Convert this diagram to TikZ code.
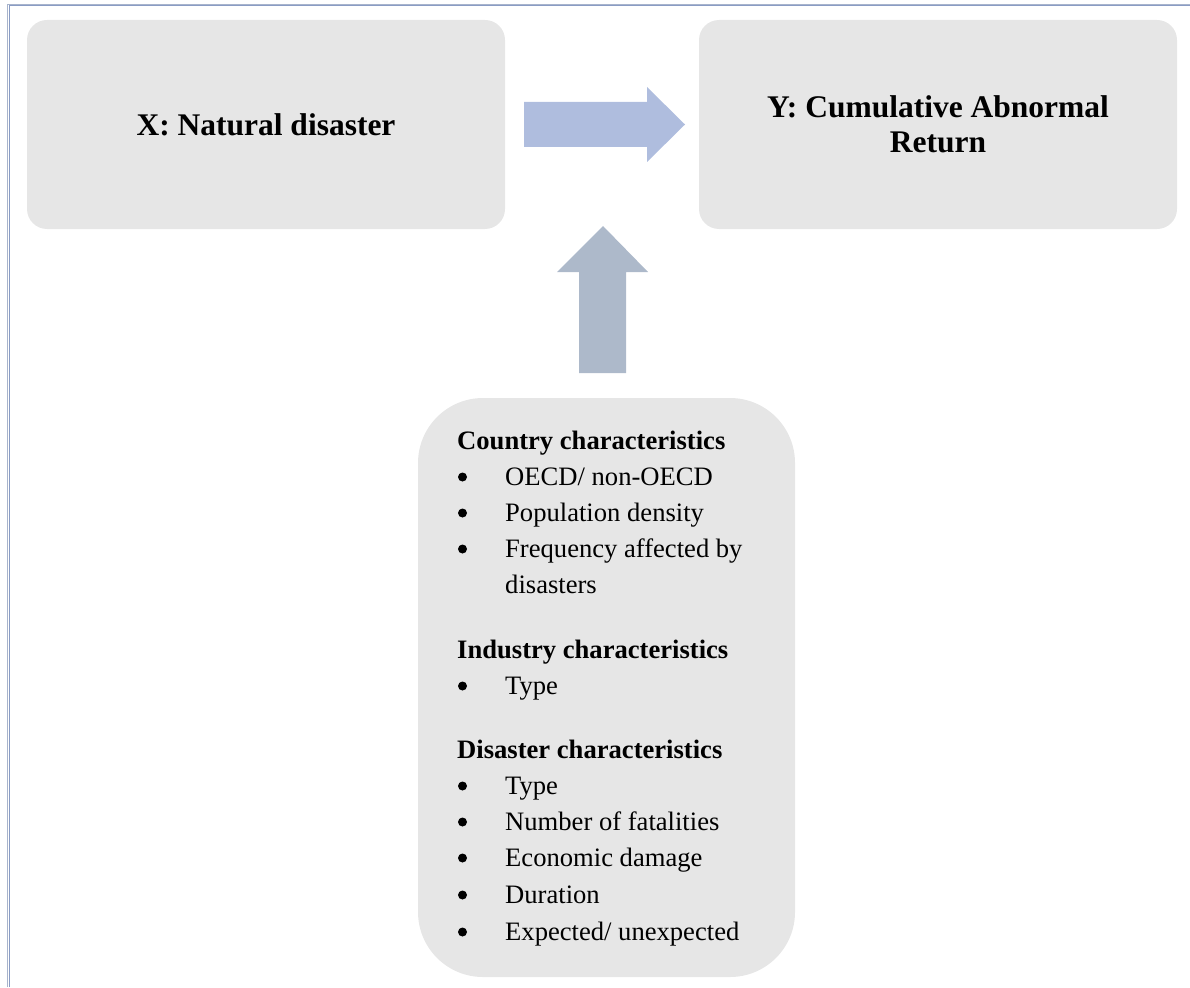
\documentclass[tikz,border=0pt]{standalone}
\usepackage{fontspec}
\setmainfont{Liberation Serif}
\definecolor{boxgray}{HTML}{E6E6E6}
\definecolor{arrowblue}{HTML}{AFBDDE}
\definecolor{arrowgray}{HTML}{ADB9CA}
\definecolor{frameblue}{HTML}{8A9CC4}
\definecolor{framelight}{HTML}{A8B4CC}
\begin{document}
\begin{tikzpicture}[x=1pt,y=-1pt,
  box/.style={fill=boxgray, draw=none, rounded corners=20pt, inner sep=0pt},
  titletext/.style={inner sep=0pt, align=center, font=\fontsize{31.5}{35}\selectfont\bfseries},
  headtext/.style={anchor=base west, inner sep=0pt, font=\fontsize{26.6}{32}\selectfont\bfseries},
  itemtext/.style={anchor=base west, inner sep=0pt, font=\fontsize{26.6}{32}\selectfont},
  bul/.style={circle, fill=black, draw=none, inner sep=0pt, minimum size=9pt}]
\useasboundingbox (0,0) rectangle (1190,987);
% frame
\draw[framelight, line width=1pt] (7.5,987) -- (7.5,4.2) -- (1190,4.2);
\draw[frameblue, line width=1pt] (9,987) -- (9,5.6) -- (1190,5.6);
% boxes
\node[box, minimum width=478pt, minimum height=209pt] (X) at (266,124.5) {};
\node[box, minimum width=478pt, minimum height=209pt] (Y) at (938,124.5) {};
\node[box, rounded corners=65pt, minimum width=377pt, minimum height=579pt] (M) at (606.5,687.5) {};
\node[titletext] (Xt) at (X.center) {X: Natural disaster};
\node[titletext] (Yt) at (Y.center) {Y: Cumulative Abnormal\\Return};
% block arrows
\fill[arrowblue] (524,102) -- (647,102) -- (647,87) -- (685,124.5) -- (647,162) -- (647,147) -- (524,147) -- cycle;
\fill[arrowgray] (579,373) -- (579,272) -- (557,272) -- (603,226) -- (648,272) -- (626,272) -- (626,373) -- cycle;
% list
\node[headtext] (h1) at (457,449) {Country characteristics};
\node[bul] (b1) at (462.5,477) {};
\node[itemtext] (i1) at (505,485) {OECD/ non-OECD};
\node[bul] (b2) at (462.5,513) {};
\node[itemtext] (i2) at (505,521) {Population density};
\node[bul] (b3) at (462.5,549) {};
\node[itemtext] (i3) at (505,557) {Frequency affected by};
\node[itemtext] (i3b) at (505,593) {disasters};
\node[headtext] (h2) at (457,658) {Industry characteristics};
\node[bul] (b4) at (462.5,686) {};
\node[itemtext] (i4) at (505,694) {Type};
\node[headtext] (h3) at (457,758) {Disaster characteristics};
\node[bul] (b5) at (462.5,786) {};
\node[itemtext] (i5) at (505,794) {Type};
\node[bul] (b6) at (462.5,822) {};
\node[itemtext] (i6) at (505,830) {Number of fatalities};
\node[bul] (b7) at (462.5,858) {};
\node[itemtext] (i7) at (505,866) {Economic damage};
\node[bul] (b8) at (462.5,895) {};
\node[itemtext] (i8) at (505,903) {Duration};
\node[bul] (b9) at (462.5,932) {};
\node[itemtext] (i9) at (505,940) {Expected/ unexpected};
\end{tikzpicture}
\end{document}
